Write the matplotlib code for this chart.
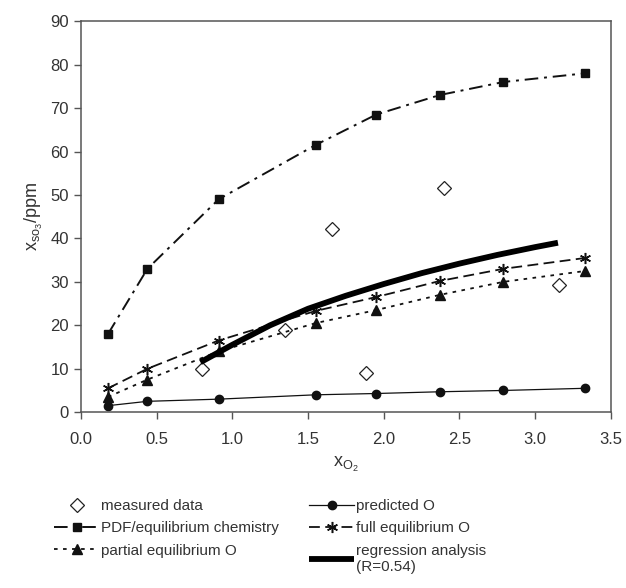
import matplotlib
matplotlib.use("Agg")
import matplotlib.pyplot as plt

plt.rcParams['font.family'] = ['Liberation Sans', 'DejaVu Sans']
plt.rcParams['mathtext.fontset'] = 'custom'
plt.rcParams['mathtext.rm'] = 'Liberation Sans'
plt.rcParams['mathtext.it'] = 'Liberation Sans'

# model x positions
x_model = [0.18, 0.44, 0.91, 1.55, 1.95, 2.37, 2.79, 3.33]
pdf_chem = [18, 33, 49, 61.5, 68.5, 73, 76, 78]
full_eq = [5.5, 10, 16.5, 23.3, 26.5, 30.2, 33, 35.5]
partial_eq = [3.5, 7.5, 14, 20.5, 23.5, 27, 30, 32.5]
predicted = [1.5, 2.5, 3, 4, 4.3, 4.7, 5, 5.5]

x_meas = [0.80, 1.35, 1.66, 1.88, 2.40, 3.16]
y_meas = [9.9, 18.9, 42.1, 9.0, 51.6, 29.2]

x_reg = [0.79, 1.0, 1.25, 1.5, 1.75, 2.0, 2.25, 2.5, 2.75, 3.0, 3.15]
y_reg = [11.5, 15.5, 20, 23.8, 26.8, 29.5, 32, 34.2, 36.2, 38, 39]

TXT = '#333333'

fig = plt.figure(figsize=(6.26, 5.88), dpi=100)
ax = fig.add_axes([0.129, 0.299, 0.847, 0.665])

h_meas, = ax.plot(x_meas, y_meas, linestyle='none', marker='D', markersize=7,
                  markerfacecolor='white', markeredgecolor='#222222', markeredgewidth=0.9,
                  label='measured data')
h_pdf, = ax.plot(x_model, pdf_chem, color='#111111', lw=1.4, dashes=(7, 3, 1.5, 3),
                 marker='s', markersize=6, label='PDF/equilibrium chemistry')
h_part, = ax.plot(x_model, partial_eq, color='#111111', lw=1.3, dashes=(2, 3),
                  marker='^', markersize=7, label='partial equilibrium O')
h_pred, = ax.plot(x_model, predicted, color='#111111', lw=0.9, linestyle='-',
                  marker='o', markersize=6, label='predicted O')
h_full, = ax.plot(x_model, full_eq, color='#111111', lw=1.3, dashes=(6, 3),
                  marker=(6, 2, 0), markersize=8, markeredgewidth=1.1,
                  label='full equilibrium O')
h_reg, = ax.plot(x_reg, y_reg, color='black', lw=4.2, solid_capstyle='butt',
                 label='regression analysis\n(R=0.54)')

ax.set_xlim(0, 3.5)
ax.set_ylim(0, 90)
ax.set_xticks([0.0, 0.5, 1.0, 1.5, 2.0, 2.5, 3.0, 3.5])
ax.set_xticklabels(['0.0', '0.5', '1.0', '1.5', '2.0', '2.5', '3.0', '3.5'])
ax.set_yticks(range(0, 91, 10))
ax.tick_params(axis='both', direction='out', length=5, width=1, colors='#555555',
               labelcolor=TXT, labelsize=12)
ax.tick_params(axis='x', pad=9)
for s in ax.spines.values():
    s.set_color('#555555')
    s.set_linewidth(1.1)

ax.set_xlabel('x$_{\\mathregular{O_2}}$', fontsize=13, color=TXT, labelpad=6)
ax.set_ylabel('x$_{\\mathregular{so_3}}$/ppm', fontsize=13, color=TXT, labelpad=4)

leg = fig.legend(handles=[h_meas, h_pdf, h_part, h_pred, h_full, h_reg],
                 ncol=2, loc='upper left', bbox_to_anchor=(0.065, 0.175),
                 frameon=False, fontsize=11, handlelength=2.9, handletextpad=0.15,
                 columnspacing=2.0, labelspacing=0.55, labelcolor=TXT)

fig.savefig('out.png', dpi=100)
